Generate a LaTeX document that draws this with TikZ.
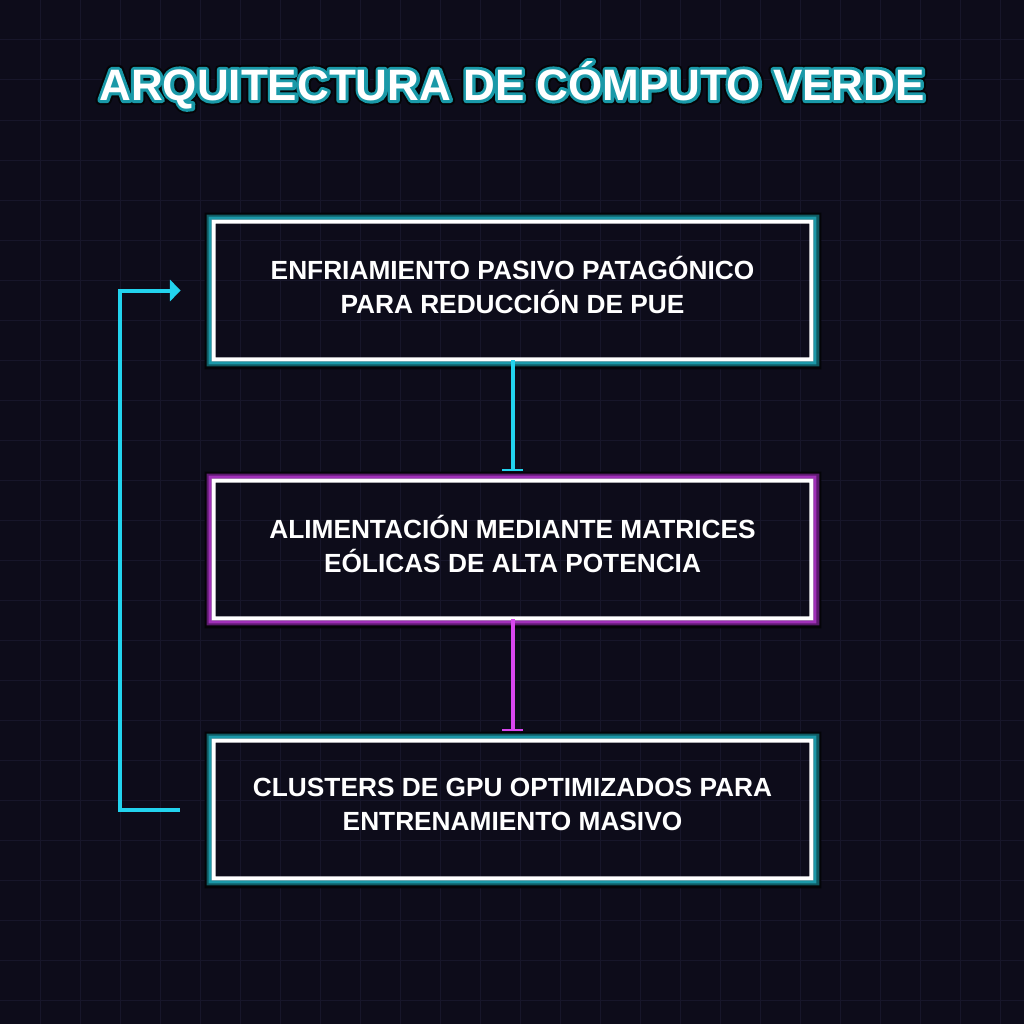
\documentclass[tikz,border=0pt]{standalone}
\usepackage{fontspec}
\setmainfont{Liberation Sans}
\usetikzlibrary{arrows.meta,calc}
\definecolor{bgc}{HTML}{0D0C1A}
\definecolor{gridc}{HTML}{17162A}
\definecolor{cyanc}{HTML}{22D3EE}
\definecolor{magc}{HTML}{D946EF}
\definecolor{tealA}{HTML}{1B98A8}
\definecolor{tealB}{HTML}{0F5A62}
\definecolor{purA}{HTML}{A030B8}
\definecolor{purB}{HTML}{5C1A6E}
\definecolor{shad}{HTML}{040408}
\newcommand\gframe[3]{%
  \fill[shad,even odd rule] ($(#1.north west)+(-7,-7)$) rectangle ($(#1.south east)+(8,8)$) (#1.north west) rectangle (#1.south east);
  \fill[#3,even odd rule] ($(#1.north west)+(-5,-5)$) rectangle ($(#1.south east)+(6,5)$) (#1.north west) rectangle (#1.south east);
  \fill[#2,even odd rule] ($(#1.north west)+(-3,-3)$) rectangle ($(#1.south east)+(3,3)$) (#1.north west) rectangle (#1.south east);
  \fill[white,even odd rule] (#1.north west) rectangle (#1.south east) ($(#1.north west)+(4,4)$) rectangle ($(#1.south east)+(-4,-4)$);
}
\newcommand\strokedtext[3]{\special{pdf:literal direct 1 Tr #1 w 1 j #2 RG}#3\special{pdf:literal direct 0 Tr}}
\tikzset{
  box/.style={inner sep=0pt, minimum width=451pt, minimum height=106pt},
  boxtext/.style={inner sep=0pt, align=center, text=white,
    font=\fontsize{19.7}{25.5}\selectfont\bfseries},
  ttl/.style={font=\fontsize{33}{38}\selectfont\bfseries, inner sep=0pt},
  cline/.style={line width=3pt, cyanc},
  mline/.style={line width=3pt, magc},
  bartip/.style={-{Bar[width=16pt,line width=1.5pt]}}
}
\begin{document}
\begin{tikzpicture}[x=0.75pt,y=-0.75pt]
\fill[bgc] (0,0) rectangle (1024,1024);
\useasboundingbox (0,0) rectangle (1024,1024);
\foreach \i in {40,80,...,1000} {
  \draw[gridc, line width=0.75pt] (\i,0) -- (\i,1024);
  \draw[gridc, line width=0.75pt] (0,\i) -- (1024,\i);
}
% title with glow
\node[ttl, text=shad] (tglowa) at (512,85) {\strokedtext{7.5}{0.02 0.02 0.03}{ARQUITECTURA DE CÓMPUTO VERDE}};
\node[ttl, text=tealA] (tglowb) at (512,85) {\strokedtext{4.5}{0.10 0.60 0.66}{ARQUITECTURA DE CÓMPUTO VERDE}};
\node[ttl, text=white] (title) at (512,85) {ARQUITECTURA DE CÓMPUTO VERDE};

\node[box] (b1) at (512.5,290.5) {};
\node[box] (b2) at (512.5,549.5) {};
\node[box] (b3) at (512.5,809.5) {};
\gframe{b1}{tealA}{tealB}
\gframe{b2}{purA}{purB}
\gframe{b3}{tealA}{tealB}
\node[boxtext] (t1) at ($(b1.center)+(0,-5.5)$) {ENFRIAMIENTO PASIVO PATAGÓNICO\\PARA REDUCCIÓN DE PUE};
\node[boxtext] (t2) at ($(b2.center)+(0,-5.5)$) {ALIMENTACIÓN MEDIANTE MATRICES\\EÓLICAS DE ALTA POTENCIA};
\node[boxtext] (t3) at ($(b3.center)+(0,-5.5)$) {CLUSTERS DE GPU OPTIMIZADOS PARA\\ENTRENAMIENTO MASIVO};

\coordinate (e1) at ($(b2.north)+(0,-8)$);
\coordinate (e2) at ($(b3.north)+(0,-8)$);
\draw[cline, bartip] ($(b1.south)+(0,-1)$) -- (e1);
\draw[mline, bartip] ($(b2.south)+(0,-1)$) -- (e2);
\coordinate (f1) at ($(b3.west)+(-32,0)$);
\coordinate (f2) at ($(b1.west)+(-31,0)$);
\draw[cline, -{Triangle[length=8pt,width=16pt]}] (f1) -- ++(-60,0) |- (f2);
\end{tikzpicture}
\end{document}
